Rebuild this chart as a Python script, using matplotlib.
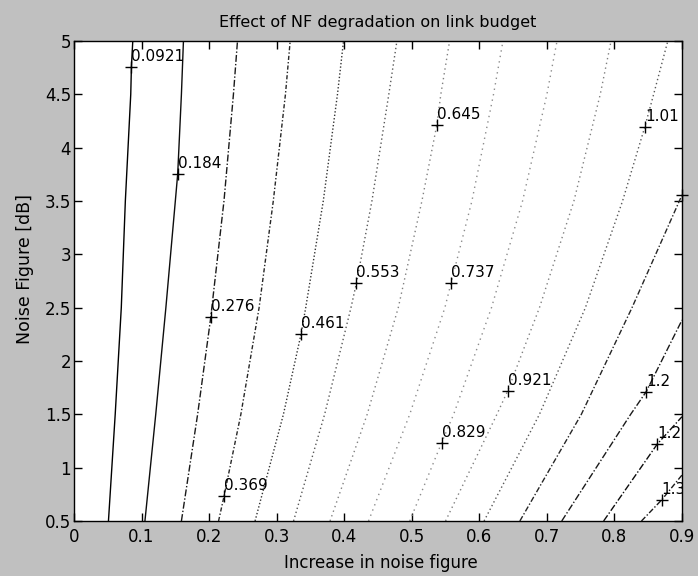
import matplotlib
matplotlib.use("Agg")
import matplotlib.pyplot as plt

# ---------------- data ----------------
# contour levels (label values)
levels = [0.0921, 0.184, 0.276, 0.369, 0.461, 0.553, 0.645, 0.737,
          0.829, 0.921, 1.01, 1.11, 1.2, 1.29, 1.38]

# noise figure rows (dB) at which contour crossings were read
y_rows = [0.5, 1.5, 2.5, 3.5, 4.5, 5.0]

# x-position (increase in noise figure) of each contour at each row
cross_x = [
    [0.051, 0.061, 0.070, 0.076, 0.084, 0.087],
    [0.105, 0.121, 0.136, 0.150, 0.159, 0.162],
    [0.159, 0.183, 0.204, 0.222, 0.236, 0.242],
    [0.214, 0.247, 0.274, 0.295, 0.313, 0.320],
    [0.268, 0.310, 0.343, 0.369, 0.390, 0.399],
    [0.325, 0.371, 0.410, 0.441, 0.466, 0.478],
    [0.379, 0.434, 0.480, 0.515, 0.543, 0.556],
    [0.436, 0.497, 0.549, 0.589, 0.621, 0.635],
    [0.497, 0.562, 0.618, 0.664, 0.700, 0.715],
    [0.550, 0.626, 0.689, 0.740, 0.779, 0.795],
    [0.607, 0.689, 0.757, 0.812, 0.858, 0.879],
    [0.660, 0.751, 0.826, None, None, None],
    [0.722, 0.824, None, None, None, None],
    [0.784, None, None, None, None, None],
    [0.840, None, None, None, None, None],
]

# noise figure at which a contour leaves through the right border (x = 0.9)
exit_y = [None] * 11 + [3.556, 2.384, 1.478, 0.931]

# contour label positions (the '+' marks)
label_x = [0.085, 0.1535, 0.2025, 0.222, 0.336, 0.418, 0.537, 0.558,
           0.544, 0.642, 0.845, 0.900, 0.847, 0.8635, 0.8698]
label_y = [4.759, 3.753, 2.41, 0.73, 2.25, 2.728, 4.21, 2.728,
           1.231, 1.72, 4.196, 3.556, 1.712, 1.222, 0.697]

x_ticks = [0, 0.1, 0.2, 0.3, 0.4, 0.5, 0.6, 0.7, 0.8, 0.9]
x_ticklabels = ["0", "0.1", "0.2", "0.3", "0.4", "0.5", "0.6", "0.7", "0.8", "0.9"]
y_ticks = [0.5, 1, 1.5, 2, 2.5, 3, 3.5, 4, 4.5, 5]
y_ticklabels = ["0.5", "1", "1.5", "2", "2.5", "3", "3.5", "4", "4.5", "5"]
x_max = 0.9

title = "Effect of NF degradation on link budget"
xlabel = "Increase in noise figure"
ylabel = "Noise Figure [dB]"

# ---------------- styles ----------------
line_styles = ['-', '-', (0, (5, 1.5, 1, 1.5)), (0, (3, 1.5, 1, 1.5)),
               (0, (1, 1.5)), (0, (1, 2)), (0, (1, 2.5)), (0, (1, 3)),
               (0, (1, 3)), (0, (1, 2.5)), (0, (1, 2)),
               (0, (4, 1.5, 1, 1.5)), (0, (5, 1.5, 1, 1.5)),
               (0, (5, 1.5, 1, 1.5)), (0, (4, 1.5, 1, 1.5))]
line_grays = [0.0, 0.05, 0.1, 0.15, 0.2, 0.35, 0.5, 0.55, 0.55, 0.5,
              0.35, 0.15, 0.1, 0.05, 0.1]
bg = "#c0c0c0"

plt.rcParams['font.family'] = ['DejaVu Sans']

fig = plt.figure(figsize=(6.98, 5.76), dpi=100, facecolor=bg)
ax = fig.add_axes([74 / 698, 1 - 521 / 576, 608 / 698, 480 / 576])
ax.set_facecolor("white")

for i, lev in enumerate(levels):
    pts = [(x, y) for x, y in zip(cross_x[i], y_rows) if x is not None]
    pts.append((label_x[i], label_y[i]))
    if exit_y[i] is not None:
        pts.append((x_max, exit_y[i]))
    pts = sorted(set(pts), key=lambda p: p[1])
    xs = [p[0] for p in pts]
    ys = [p[1] for p in pts]
    g = line_grays[i]
    ax.plot(xs, ys, color=(g, g, g), linestyle=line_styles[i], linewidth=1.0)
    ax.plot([label_x[i]], [label_y[i]], marker='+', color='black',
            markersize=8, markeredgewidth=1.0, linestyle='none', clip_on=False)
    # a label whose anchor sits on the right border is clipped away entirely
    if label_x[i] < x_max:
        ax.annotate('%.3g' % lev, (label_x[i], label_y[i]), xytext=(0, 3),
                    textcoords='offset pixels', ha='left', va='bottom',
                    fontsize=11, color='black', clip_on=True,
                    annotation_clip=False)

ax.set_xlim(0, 0.9)
ax.set_ylim(0.5, 5)
ax.set_xticks(x_ticks)
ax.set_xticklabels(x_ticklabels)
ax.set_yticks(y_ticks)
ax.set_yticklabels(y_ticklabels)
ax.tick_params(direction='in', top=True, right=True, length=6, width=1,
               labelsize=12, colors='black')
ax.tick_params(axis='y', pad=2)
ax.tick_params(axis='x', pad=5)
for s in ax.spines.values():
    s.set_linewidth(1.0)
    s.set_color('black')

ax.set_title(title, fontsize=11.5, pad=10)
ax.set_xlabel(xlabel, fontsize=12)
ax.set_ylabel(ylabel, fontsize=12.5)
ax.xaxis.set_label_coords(0.505, -0.068)
ax.yaxis.set_label_coords(-0.066, 0.525)

fig.savefig("out.png", dpi=100, facecolor=bg)
